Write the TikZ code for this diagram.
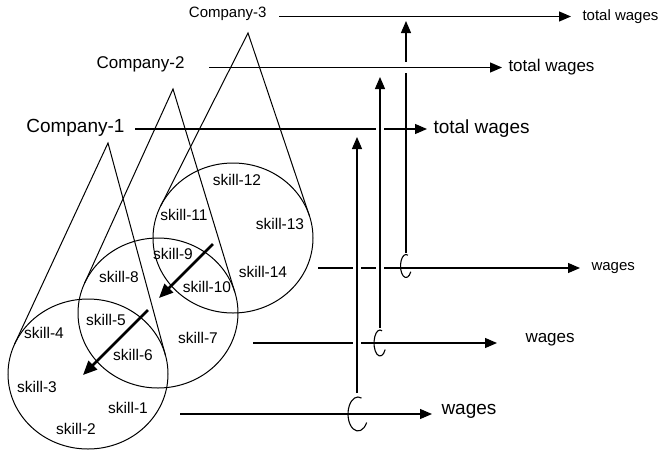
\documentclass[tikz,border=0pt]{standalone}
\usepackage{fontspec}
\setmainfont{Liberation Sans}
\usetikzlibrary{arrows.meta}

\begin{document}
\begin{tikzpicture}[x=1pt,y=-1pt,
  line width=1pt,
  lbl/.style={inner sep=0pt},
  big/.style={lbl,font=\fontsize{19}{22}\selectfont},
  mid/.style={lbl,font=\fontsize{17}{20}\selectfont},
  small/.style={lbl,font=\fontsize{15}{18}\selectfont},
  skl/.style={lbl,font=\fontsize{15.5}{18}\selectfont},
  flow/.style={-{Triangle[length=12pt,width=10pt]},line width=1.2pt},
  cut/.style={preaction={draw=white,line width=8pt,-}},
  hop/.style={line width=1.1pt},
  push/.style={-{Triangle[length=14pt,width=12pt]},line width=2.6pt}]
\useasboundingbox (0,0) rectangle (660,450);

% labels
\node[big,anchor=east] (co1) at (125,128) {Company-1};
\node[mid,anchor=east] (co2) at (185,64) {Company-2};
\node[small,anchor=east] (co3) at (267,14) {Company-3};
\node[big,anchor=west] (tw1) at (433,129) {total wages};
\node[mid,anchor=west] (tw2) at (508,67.5) {total wages};
\node[small,anchor=west] (tw3) at (582,16.5) {total wages};
\node[big,anchor=west] (w1) at (441,411.5) {wages};
\node[mid,anchor=west] (w2) at (525,339.5) {wages};
\node[small,anchor=west] (w3) at (591,268.5) {wages};

% wage lines and hops
\coordinate (b1) at (180,414);
\coordinate (b2) at (253,343);
\coordinate (b3) at (318,268);
\coordinate (hc1) at (358,414);
\coordinate (hc2) at (380,343);
\coordinate (hc3) at (406,266);
\draw[flow,shorten >=9pt] (b1) -- (b1 -| w1.west);
\draw[flow,shorten >=28pt] (b2) -- (b2 -| w2.west);
\draw[flow,shorten >=11pt] (b3) -- (b3 -| w3.west);
\draw[hop] (hc1) ++(30:10 and 17) arc[start angle=30,end angle=290,x radius=10,y radius=17];
\draw[hop] (hc2) ++(30:6 and 13) arc[start angle=30,end angle=290,x radius=6,y radius=13];
\draw[hop] (hc3) ++(30:5.5 and 11.5) arc[start angle=30,end angle=290,x radius=5.5,y radius=11.5];

% company lines
\draw[flow,shorten <=10pt,shorten >=6pt] (co1.east |- tw1.west) -- (tw1.west);
\draw[flow,shorten <=12pt,shorten >=11pt] (co3.east |- tw3.west) -- (tw3.west);

% sums
\coordinate (j1) at (357,393);
\coordinate (j2) at (380,328);
\coordinate (j3) at (406,253);
\coordinate (t1) at (357,137);
\coordinate (t2) at (380,77);
\coordinate (t3) at (406,21);
\draw[flow] (j3) -- (t3);
\draw[flow,cut] (j1) -- (t1);
\draw[flow,cut] (j2) -- (t2);
\draw[flow,preaction={draw=white,line width=11pt,-},shorten <=24pt,shorten >=6pt] (co2.east |- tw2.west) -- (tw2.west);

% companies
\coordinate (a1) at (108,143);
\coordinate (a2) at (173,89);
\coordinate (a3) at (248,33);
\draw (88,374) ellipse[x radius=80,y radius=75];
\draw (158,313) ellipse[x radius=80,y radius=75];
\draw (233,238) ellipse[x radius=80,y radius=75];
\draw (14.6,344.1) -- (a1) -- (165.5,355.5);
\draw (84.4,283.6) -- (a2) -- (234.9,292.4);
\draw (160.7,205.9) -- (a3) -- (309.3,215.5);

% skills
\node[skl] (s1) at (128,408) {skill-1};
\node[skl] (s2) at (76,429) {skill-2};
\node[skl] (s3) at (37,387) {skill-3};
\node[skl] (s4) at (44,333) {skill-4};
\node[skl] (s5) at (106,320) {skill-5};
\node[skl] (s6) at (133,355) {skill-6};
\node[skl] (s7) at (198,338) {skill-7};
\node[skl] (s8) at (119,277) {skill-8};
\node[skl] (s9) at (173,254) {skill-9};
\node[skl] (s10) at (207,287) {skill-10};
\node[skl] (s11) at (184,215) {skill-11};
\node[skl] (s12) at (237,180) {skill-12};
\node[skl] (s13) at (280,224) {skill-13};
\node[skl] (s14) at (263,272) {skill-14};

\coordinate (p1) at (213,244);
\coordinate (q1) at (159,298);
\coordinate (p2) at (148,310);
\coordinate (q2) at (83,375);
\draw[push] (p1) -- (q1);
\draw[push] (p2) -- (q2);
\end{tikzpicture}
\end{document}
